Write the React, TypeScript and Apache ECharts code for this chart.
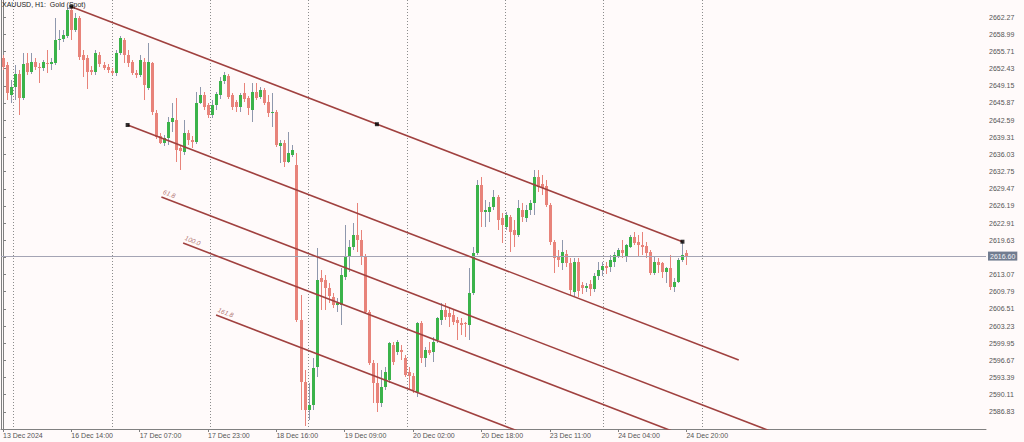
import React, { useEffect, useRef } from "react";
import * as echarts from "echarts";

// ---- candle data (H1 bars, index 0 = 13 Dec 2024 20:00) ----
const opens = [
  2654.46, 2653.12, 2647.39, 2648.92, 2651.41, 2646.82, 2653.51, 2651.79, 2653.7, 2652.74,
  2652.55, 2653.51, 2653.32, 2653.51, 2657.9, 2658.1, 2658.67, 2663.64, 2659.82, 2662.11,
  2655.03, 2654.46, 2652.17, 2651.79, 2655.03, 2653.12, 2652.74, 2651.98, 2651.6, 2655.42,
  2657.9, 2655.03, 2653.7, 2651.6, 2651.21, 2653.7, 2648.73, 2653.51, 2643.95, 2639.55,
  2638.22, 2639.17, 2642.23, 2642.61, 2637.26, 2636.5, 2640.13, 2638.79, 2638.41, 2645.87,
  2647.39, 2645.48, 2643.56, 2645.48, 2647.39, 2650.07, 2651.02, 2647.39, 2646.06, 2645.1,
  2647.78, 2646.82, 2644.52, 2647.97, 2647.01, 2648.35, 2646.06, 2643.95, 2644.14, 2637.64,
  2638.22, 2634.59, 2635.92, 2634.0, 2604.39, 2592.54, 2587.18, 2588.13, 2595.4, 2612.41,
  2612.03, 2610.5, 2608.78, 2607.25, 2607.25, 2612.6, 2616.43, 2618.34, 2620.63, 2619.68,
  2616.62, 2605.92, 2596.17, 2592.35, 2588.52, 2591.58, 2592.92, 2599.6, 2598.27, 2598.65,
  2597.12, 2594.45, 2593.68, 2590.63, 2603.82, 2597.12, 2598.65, 2598.27, 2600.56, 2604.39,
  2606.3, 2605.73, 2605.34, 2604.39, 2603.82, 2603.82, 2603.43, 2609.55, 2617.2, 2630.19,
  2625.03, 2625.03, 2625.98, 2627.89, 2623.88, 2622.16, 2624.07, 2621.59, 2620.63, 2625.41,
  2623.88, 2625.41, 2626.75, 2631.72, 2630.39, 2630.0, 2626.36, 2619.3, 2616.43, 2615.28,
  2617.01, 2615.28, 2609.74, 2615.47, 2611.07, 2610.5, 2611.27, 2610.31, 2612.79, 2613.94,
  2614.7, 2614.51, 2615.47, 2616.62, 2617.77, 2616.62, 2618.34, 2620.25, 2619.3, 2618.72,
  2618.53, 2617.39, 2613.37, 2615.47, 2615.28, 2613.56, 2614.32, 2610.69, 2611.65, 2615.85,
  2617.2,
];
const closes = [
  2652.74, 2647.78, 2648.92, 2651.41, 2646.82, 2653.32, 2651.79, 2653.7, 2652.74, 2652.55,
  2653.7, 2653.32, 2653.7, 2657.9, 2658.1, 2658.86, 2663.64, 2659.82, 2662.11, 2654.65,
  2654.08, 2651.79, 2651.79, 2655.42, 2653.32, 2652.55, 2652.17, 2651.6, 2655.42, 2658.29,
  2655.03, 2653.51, 2651.6, 2651.21, 2654.08, 2649.3, 2653.7, 2644.14, 2639.36, 2638.22,
  2639.17, 2642.23, 2642.99, 2636.88, 2636.69, 2640.13, 2638.79, 2638.41, 2645.87, 2647.39,
  2645.1, 2643.56, 2645.48, 2647.59, 2650.07, 2651.21, 2647.01, 2645.1, 2645.1, 2647.39,
  2646.63, 2644.91, 2647.97, 2646.82, 2648.35, 2645.87, 2643.95, 2644.14, 2637.83, 2638.22,
  2634.59, 2636.31, 2636.88, 2604.39, 2592.54, 2587.18, 2588.13, 2595.21, 2612.03, 2611.65,
  2610.5, 2608.97, 2607.25, 2607.64, 2612.98, 2616.43, 2618.34, 2620.63, 2619.68, 2616.43,
  2605.92, 2596.17, 2592.35, 2588.52, 2591.58, 2594.45, 2599.99, 2596.36, 2600.18, 2598.27,
  2593.87, 2593.68, 2591.01, 2603.82, 2597.12, 2598.65, 2598.08, 2600.18, 2604.77, 2606.3,
  2604.96, 2604.96, 2604.01, 2603.82, 2603.43, 2603.63, 2609.55, 2617.2, 2630.19, 2625.03,
  2625.41, 2625.98, 2627.89, 2623.5, 2622.54, 2624.45, 2621.21, 2620.63, 2625.79, 2624.07,
  2625.41, 2626.75, 2631.72, 2629.81, 2629.62, 2626.36, 2619.3, 2616.24, 2615.85, 2617.39,
  2615.28, 2610.12, 2615.47, 2609.93, 2610.5, 2610.88, 2610.31, 2612.79, 2613.94, 2614.7,
  2614.32, 2615.85, 2616.81, 2617.77, 2617.2, 2618.72, 2620.25, 2619.11, 2618.72, 2618.34,
  2617.2, 2613.37, 2615.47, 2614.89, 2613.56, 2614.32, 2610.69, 2611.65, 2615.85, 2616.81,
  2616.6,
];
const lows = [
  2652.17, 2646.44, 2645.87, 2646.44, 2643.56, 2646.44, 2651.21, 2651.41, 2652.17, 2649.69,
  2651.98, 2651.6, 2652.17, 2653.12, 2655.99, 2657.52, 2658.29, 2657.9, 2659.44, 2654.08,
  2650.83, 2648.54, 2651.21, 2651.21, 2652.74, 2652.17, 2651.6, 2651.21, 2651.02, 2655.03,
  2653.51, 2652.74, 2651.21, 2650.64, 2650.83, 2646.44, 2648.35, 2643.56, 2638.98, 2638.03,
  2637.64, 2637.83, 2640.32, 2634.59, 2633.06, 2635.92, 2637.83, 2637.26, 2638.03, 2645.68,
  2644.52, 2642.99, 2642.99, 2644.52, 2646.63, 2649.5, 2646.63, 2644.52, 2644.14, 2644.14,
  2646.06, 2643.56, 2642.23, 2646.44, 2646.63, 2645.48, 2643.18, 2641.27, 2637.45, 2634.4,
  2633.63, 2634.4, 2635.54, 2604.01, 2587.18, 2584.12, 2585.27, 2587.18, 2593.49, 2606.3,
  2606.3, 2607.64, 2606.68, 2605.92, 2603.43, 2612.03, 2613.56, 2617.77, 2617.39, 2614.89,
  2605.54, 2595.78, 2588.52, 2586.8, 2587.75, 2591.01, 2592.35, 2595.78, 2597.69, 2596.74,
  2593.49, 2591.01, 2590.44, 2589.67, 2596.17, 2595.4, 2597.69, 2596.36, 2599.99, 2603.43,
  2604.39, 2603.05, 2603.43, 2600.56, 2601.51, 2601.13, 2600.56, 2609.16, 2616.81, 2622.16,
  2622.16, 2623.12, 2625.41, 2621.59, 2619.11, 2621.59, 2617.39, 2618.34, 2620.25, 2623.12,
  2623.12, 2624.45, 2624.45, 2628.85, 2628.27, 2625.98, 2618.72, 2613.37, 2614.51, 2613.94,
  2614.51, 2608.97, 2608.97, 2608.78, 2609.36, 2609.74, 2608.97, 2609.74, 2612.03, 2612.79,
  2613.18, 2613.56, 2614.51, 2616.24, 2616.24, 2615.47, 2618.15, 2618.72, 2616.43, 2616.81,
  2616.24, 2612.98, 2612.98, 2613.37, 2612.41, 2611.46, 2610.12, 2609.74, 2611.46, 2615.47,
  2614.89,
];
const highs = [
  2655.03, 2653.7, 2650.26, 2653.12, 2652.17, 2655.42, 2655.42, 2655.42, 2654.46, 2653.51,
  2654.08, 2655.99, 2654.46, 2662.11, 2659.82, 2659.82, 2664.02, 2664.27, 2663.07, 2662.49,
  2655.99, 2655.03, 2652.93, 2655.99, 2655.61, 2653.7, 2653.32, 2652.55, 2655.99, 2658.67,
  2658.29, 2655.99, 2654.08, 2652.17, 2655.03, 2654.46, 2657.33, 2653.7, 2644.52, 2640.13,
  2639.74, 2643.18, 2645.87, 2646.82, 2637.64, 2642.61, 2640.7, 2639.55, 2647.97, 2648.92,
  2647.97, 2645.87, 2646.44, 2647.97, 2650.83, 2651.79, 2651.41, 2647.78, 2646.44, 2647.78,
  2649.69, 2647.2, 2649.69, 2649.69, 2648.92, 2648.73, 2647.39, 2647.78, 2644.52, 2638.79,
  2638.79, 2640.32, 2637.83, 2636.3, 2609.16, 2594.83, 2592.35, 2597.12, 2618.15, 2613.94,
  2612.98, 2611.46, 2609.55, 2608.59, 2614.32, 2622.54, 2619.68, 2622.93, 2626.75, 2621.59,
  2617.01, 2606.3, 2596.74, 2596.17, 2594.83, 2595.4, 2600.18, 2600.18, 2600.56, 2599.6,
  2597.69, 2595.4, 2594.26, 2604.01, 2604.2, 2599.22, 2600.18, 2601.13, 2604.96, 2607.64,
  2607.64, 2606.68, 2606.3, 2604.96, 2604.77, 2604.01, 2614.32, 2618.34, 2631.15, 2631.72,
  2627.32, 2626.94, 2629.23, 2628.27, 2624.84, 2625.03, 2624.45, 2623.5, 2627.32, 2626.75,
  2626.36, 2627.32, 2633.06, 2633.06, 2632.1, 2631.15, 2626.75, 2619.68, 2617.77, 2619.68,
  2617.77, 2616.24, 2616.24, 2616.24, 2611.65, 2611.46, 2612.03, 2613.37, 2615.47, 2615.47,
  2615.47, 2616.81, 2617.39, 2618.15, 2619.68, 2618.92, 2620.63, 2621.21, 2620.63, 2621.21,
  2619.3, 2617.77, 2616.43, 2616.24, 2615.47, 2614.51, 2616.81, 2612.41, 2616.24, 2619.35,
  2617.77,
];

// ---- time axis ----
const xTickIndex = [0, 17, 34, 51, 68, 85, 102, 119, 136, 153, 170];
const xTickLabels = [
  "13 Dec 2024", "16 Dec 14:00", "17 Dec 07:00", "17 Dec 23:00", "18 Dec 16:00",
  "19 Dec 09:00", "20 Dec 02:00", "20 Dec 18:00", "23 Dec 11:00", "24 Dec 04:00", "24 Dec 20:00",
];
const slotCount = 245;

// ---- price axis ----
const yMin = 2583.55;
const yMax = 2665.55;
const yStep = 3.28;

// ---- drawing objects ----
const channelMainX = [17, 169];
const channelMainY = [2664.27, 2619.35];
const channelParX = [31, 183];
const channelParY = [2641.66, 2596.74];
const anchorX = [17, 93, 169, 31];
const anchorY = [2664.27, 2641.81, 2619.35, 2641.66];
const fibLevels = ["61.8", "100.0", "161.8"];
const fibStartX = [39.4, 44.8, 53.0];
const fibStartY = [2627.9, 2619.1, 2605.34];
const fibEndX = [191.4, 196.8, 205.0];
const fibEndY = [2582.98, 2574.18, 2560.42];

const FONT = "Liberation Sans, Arial, sans-serif";
const BULL = "#3bb34a";
const BEAR = "#e8837a";
const BULL_WICK = "#8f98ad";
const LINE_COLOR = "#a0413f";
const AXIS_COLOR = "#808080";

export default function App() {
  const ref = useRef<HTMLDivElement>(null);

  useEffect(() => {
    document.body.style.margin = "0";
    const chart = echarts.init(ref.current!, undefined, { renderer: "svg", width: 1024, height: 442 });

    const categories: string[] = [];
    for (let i = 0; i < slotCount; i++) {
      const k = xTickIndex.indexOf(i);
      categories.push(k >= 0 ? xTickLabels[k] : "");
    }
    const tickSet = new Set(xTickIndex);
    const candleData = opens.map((o, i) => [i, o, closes[i], lows[i], highs[i]]);
    const lastClose = closes[closes.length - 1];

    const lineSeries = (xs: number[], ys: number[]) => ({
      type: "line",
      xAxisIndex: 1,
      yAxisIndex: 0,
      data: xs.map((x, i) => [x, ys[i]]),
      symbol: "none",
      silent: true,
      clip: true,
      lineStyle: { color: LINE_COLOR, width: 1.6 },
      z: 5,
    });

    const option: any = {
      animation: false,
      backgroundColor: "#fffafa",
      title: {
        text: "XAUUSD, H1:  Gold (Spot)",
        left: 2,
        top: 1,
        padding: 0,
        textStyle: { fontSize: 7, fontWeight: "normal", color: "#222", fontFamily: FONT },
      },
      grid: [
        { left: 0, top: 0, width: 986, height: 429, containLabel: false },
        { left: 13.5, top: 0, width: 690, height: 429, containLabel: false },
      ],
      xAxis: [
        {
          type: "category",
          gridIndex: 0,
          data: categories,
          boundaryGap: true,
          axisLine: { show: true, lineStyle: { color: AXIS_COLOR } },
          axisTick: {
            show: true,
            alignWithLabel: true,
            length: 3,
            interval: (i: number) => tickSet.has(i),
            lineStyle: { color: AXIS_COLOR },
          },
          axisLabel: {
            interval: (i: number) => tickSet.has(i),
            align: "left",
            fontSize: 7,
            color: "#555",
            margin: 3,
            fontFamily: FONT,
          },
          splitLine: { show: false },
        },
        { type: "value", gridIndex: 0, min: -0.5, max: slotCount - 0.5, show: false },
        {
          type: "value",
          gridIndex: 1,
          min: 0,
          max: 690,
          interval: 98.35,
          axisLine: { show: false },
          axisTick: { show: false },
          axisLabel: { show: false },
          splitLine: {
            show: true,
            showMaxLine: false,
            lineStyle: { color: "#8c8c8c", type: [1, 2], width: 1 },
          },
        },
      ],
      yAxis: [
        {
          type: "value",
          gridIndex: 0,
          position: "right",
          min: yMin,
          max: yMax,
          interval: yStep,
          axisLine: { show: true, lineStyle: { color: AXIS_COLOR } },
          axisTick: { show: true, length: 3, lineStyle: { color: AXIS_COLOR } },
          axisLabel: {
            fontSize: 7,
            color: "#555",
            margin: 3,
            fontFamily: FONT,
            showMinLabel: false,
            showMaxLabel: false,
            formatter: (v: number) => v.toFixed(2),
          },
          splitLine: { show: false },
        },
        { type: "value", gridIndex: 1, show: false },
        {
          type: "value",
          gridIndex: 0,
          position: "left",
          min: yMin,
          max: yMax,
          axisLine: { show: true, lineStyle: { color: AXIS_COLOR } },
          axisTick: { show: false },
          axisLabel: { show: false },
          splitLine: { show: false },
        },
      ],
      series: [
        {
          type: "custom",
          xAxisIndex: 1,
          yAxisIndex: 0,
          clip: true,
          encode: { x: 0, y: [1, 2, 3, 4] },
          data: candleData,
          renderItem: (_p: any, api: any) => {
            const idx = api.value(0);
            const o = api.value(1);
            const c = api.value(2);
            const l = api.value(3);
            const h = api.value(4);
            const po = api.coord([idx, o]);
            const pc = api.coord([idx, c]);
            const pl = api.coord([idx, l]);
            const ph = api.coord([idx, h]);
            const cx = Math.round(po[0]);
            const up = c >= o;
            const top = Math.round(Math.min(po[1], pc[1]));
            const bot = Math.round(Math.max(po[1], pc[1]));
            return {
              type: "group",
              children: [
                {
                  type: "line",
                  shape: { x1: cx + 0.5, y1: Math.round(ph[1]), x2: cx + 0.5, y2: Math.round(pl[1]) },
                  style: { stroke: up ? BULL_WICK : BEAR, lineWidth: 1 },
                },
                {
                  type: "rect",
                  shape: { x: cx - 1, y: top, width: 3, height: Math.max(1, bot - top) },
                  style: { fill: up ? BULL : BEAR },
                },
              ],
            };
          },
          markLine: {
            silent: true,
            symbol: ["none", "none"],
            data: [{ yAxis: lastClose }],
            lineStyle: { color: "#a4a4b4", width: 1, type: "solid" },
            label: {
              show: true,
              position: "end",
              distance: 2,
              formatter: lastClose.toFixed(2),
              color: "#f4f4f8",
              backgroundColor: "#717c90",
              padding: [1, 2, 1, 2],
              fontSize: 7,
              fontFamily: FONT,
            },
            z: 3,
          },
          z: 2,
        },
        lineSeries(channelMainX, channelMainY),
        lineSeries(channelParX, channelParY),
        ...fibLevels.map((_, k) => lineSeries([fibStartX[k], fibEndX[k]], [fibStartY[k], fibEndY[k]])),
        {
          type: "scatter",
          xAxisIndex: 1,
          yAxisIndex: 0,
          silent: true,
          symbol: "circle",
          symbolSize: 2,
          itemStyle: { color: "rgba(0,0,0,0)" },
          data: fibLevels.map((lv, k) => ({
            value: [fibStartX[k], fibStartY[k]],
            label: { formatter: lv },
          })),
          label: {
            show: true,
            position: "right",
            distance: 0,
            align: "left",
            verticalAlign: "bottom",
            offset: [-1, -2],
            rotate: -21,
            fontSize: 6.5,
            fontStyle: "italic",
            color: "#9a4a48",
            fontFamily: FONT,
          },
          z: 6,
        },
        {
          type: "scatter",
          xAxisIndex: 1,
          yAxisIndex: 0,
          silent: true,
          symbol: "rect",
          symbolSize: 4,
          itemStyle: { color: "#000" },
          data: anchorX.map((x, i) => [x, anchorY[i]]),
          z: 7,
        },
      ],
    };

    chart.setOption(option);
    return () => chart.dispose();
  }, []);

  return <div ref={ref} style={{ width: 1024, height: 442 }} />;
}
